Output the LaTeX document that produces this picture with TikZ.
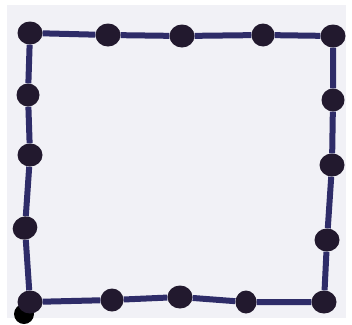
\documentclass[tikz,border=0pt]{standalone}
\usepackage{tikz}
\usetikzlibrary{shapes.geometric}
\definecolor{paper}{HTML}{F1F1F6}
\definecolor{ink}{HTML}{2E2C68}
\definecolor{blob}{HTML}{22192E}
\tikzset{
    dot/.style={ellipse, fill=blob, minimum width=25pt, minimum height=23pt, inner sep=0pt},
    edge/.style={ink, line width=6pt},
}
\begin{document}
\begin{tikzpicture}[x=1pt, y=-1pt]
    \useasboundingbox (0,0) rectangle (352,324);
    \fill[white] (0,0) rectangle (352,324);
    \fill[paper] (7,5) rectangle (346,318);

    % scan mark
    \fill[black] (24,314) circle (10pt);

    % top side
    \node[dot] (t1) at (30,33) {};
    \node[dot] (t2) at (108,35) {};
    \node[dot] (t3) at (182,36) {};
    \node[dot, minimum width=23pt] (t4) at (263,35) {};
    \node[dot] (t5) at (333,36) {};

    % left side
    \node[dot, minimum width=23pt] (l1) at (28,95) {};
    \node[dot] (l2) at (30,155) {};
    \node[dot, rotate=25] (l3) at (25,228) {};

    % right side
    \node[dot, minimum width=23pt] (r1) at (333,100) {};
    \node[dot] (r2) at (332,165) {};
    \node[dot] (r3) at (327,240) {};

    % bottom side
    \node[dot] (b1) at (30,302) {};
    \node[dot, minimum width=23pt] (b2) at (112,300) {};
    \node[dot] (b3) at (180,297) {};
    \node[dot, minimum width=21pt] (b4) at (246,302) {};
    \node[dot] (b5) at (324,302) {};

    % outline
    \begin{scope}[every path/.style={edge}]
    \draw (t1) -- (t2) -- (t3) -- (t4) -- (t5);
    \draw (t5) -- (r1) -- (r2) -- (r3) -- (b5);
    \draw (b1) -- (b2) -- (b3) -- (b4) -- (b5);
    \draw (t1) -- (l1) -- (l2) -- (l3) -- (b1);
    \end{scope}
\end{tikzpicture}
\end{document}
